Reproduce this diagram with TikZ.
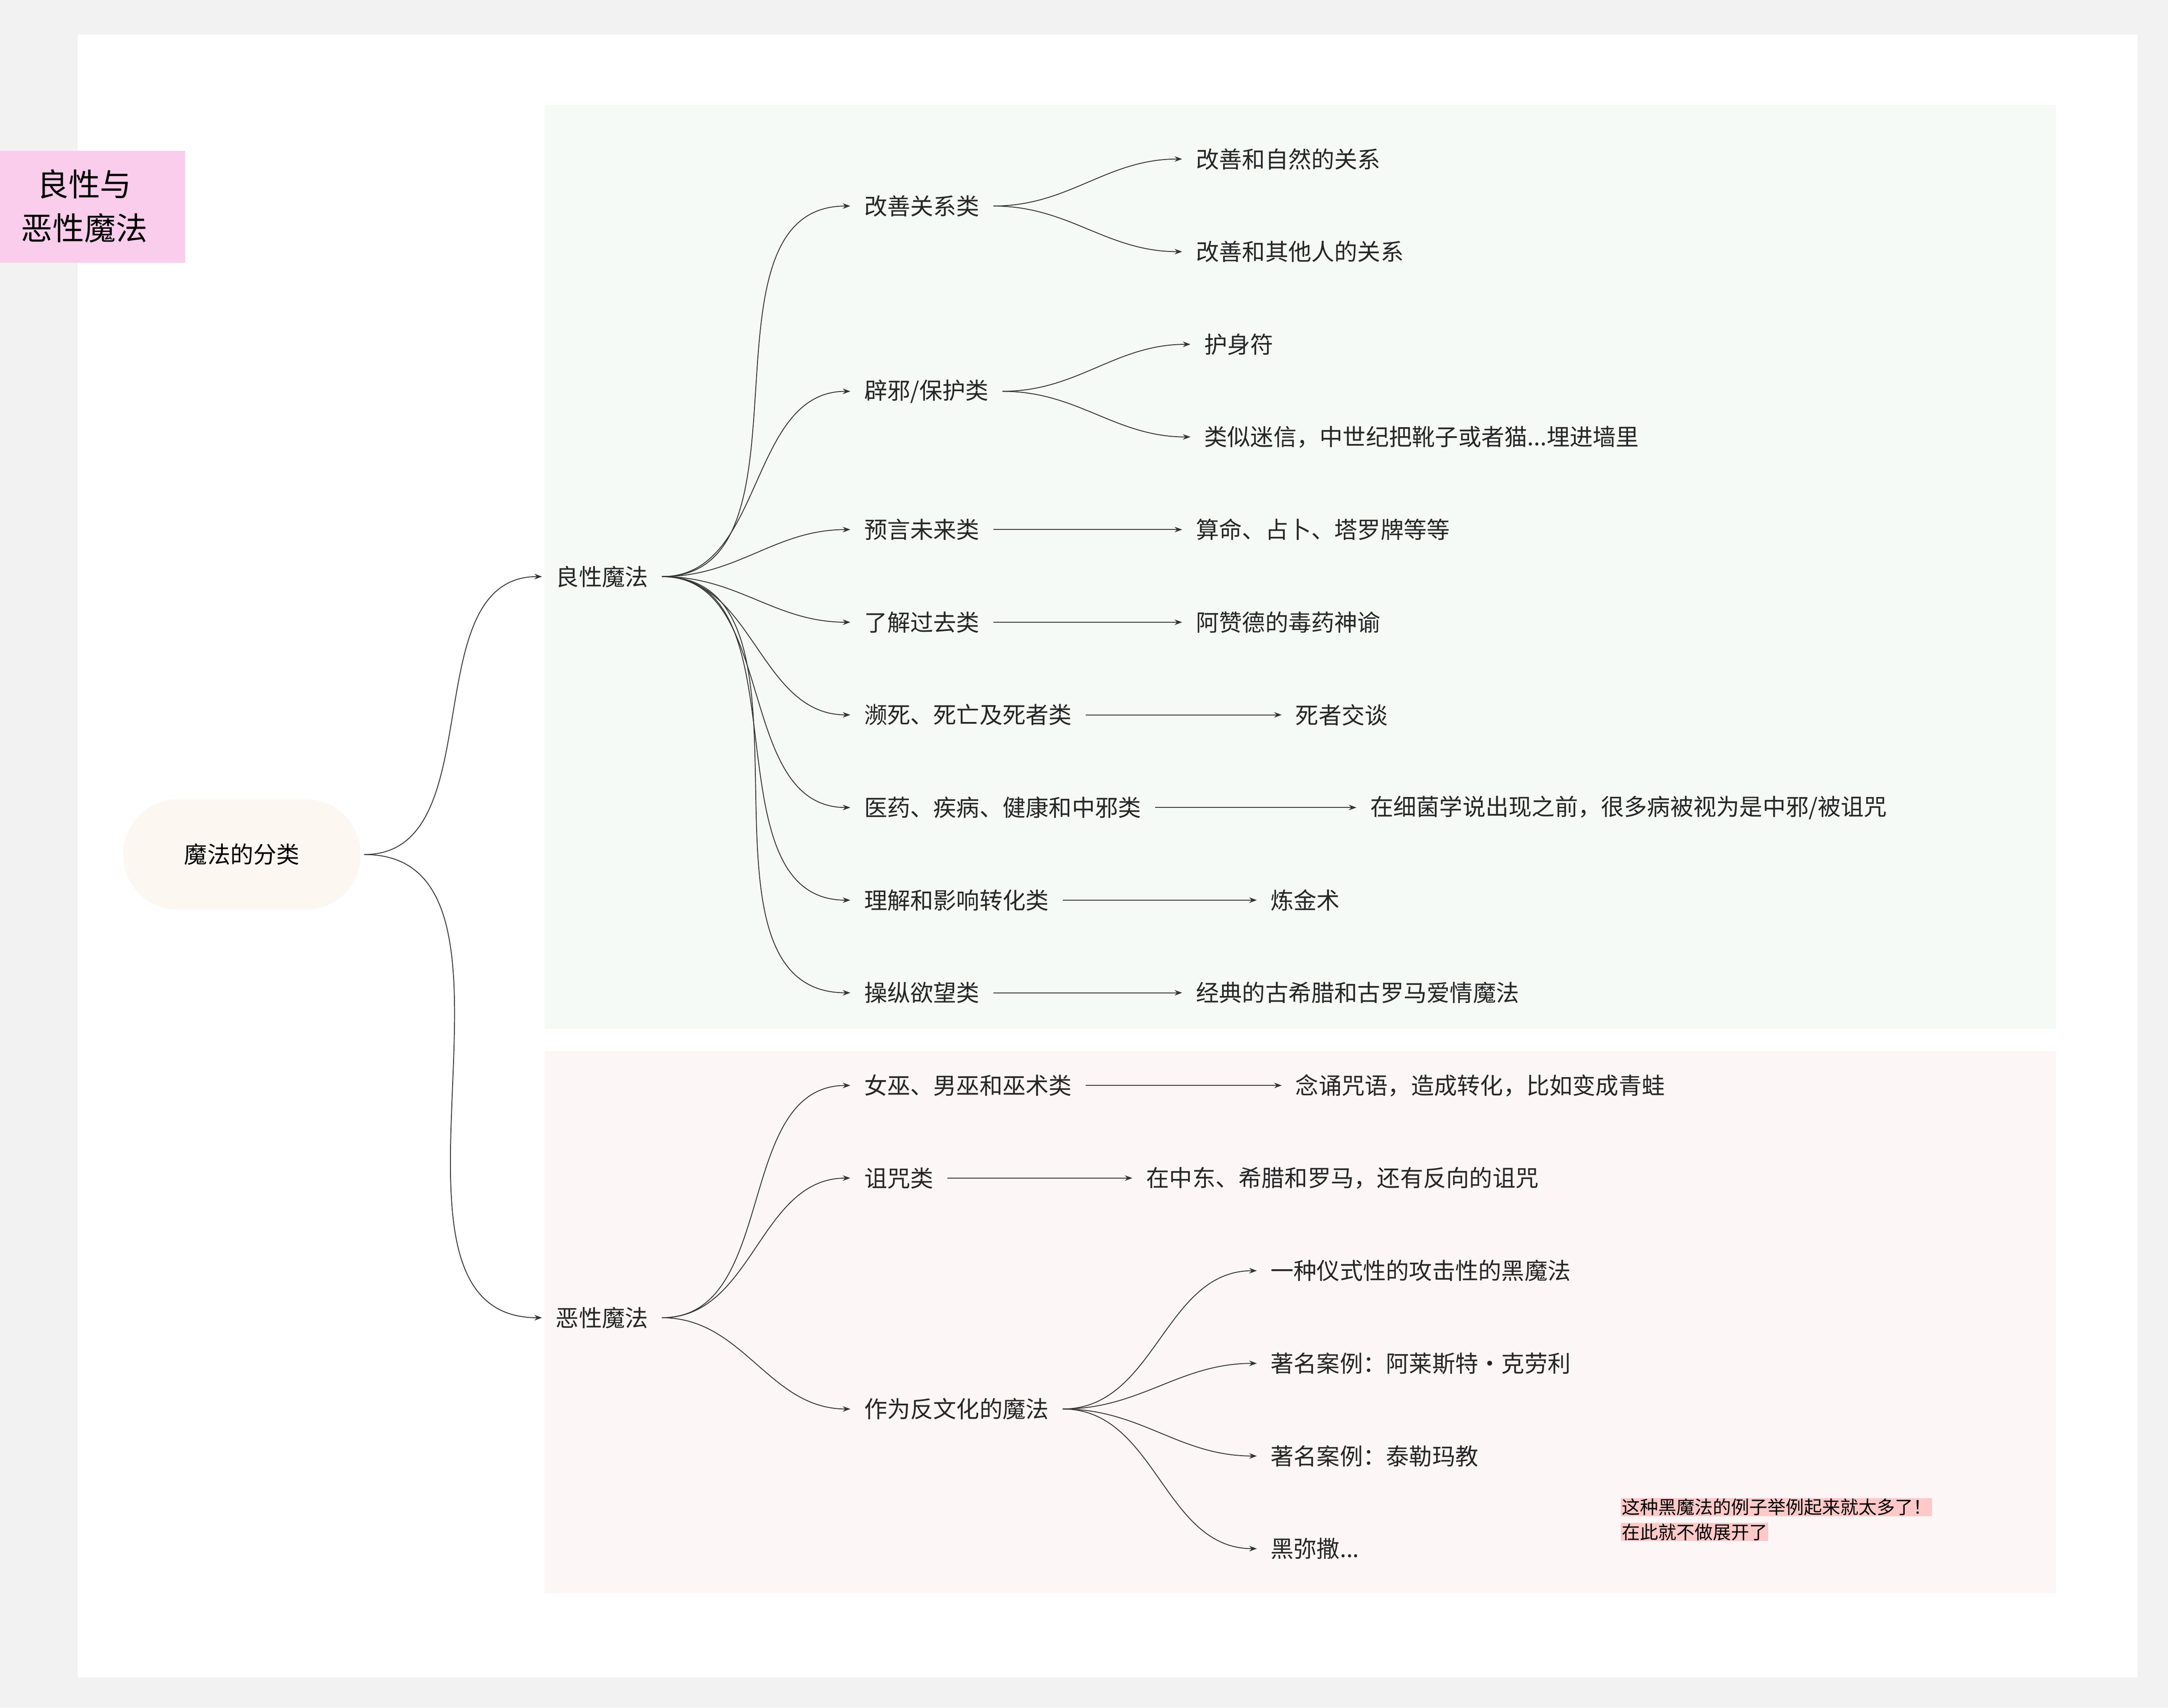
\documentclass[tikz,border=0pt]{standalone}
\usepackage{fontspec}
\setmainfont{Noto Sans CJK SC}
\usetikzlibrary{arrows.meta}
\definecolor{pagegray}{HTML}{F2F2F2}
\definecolor{goodbg}{HTML}{F5FAF6}
\definecolor{evilbg}{HTML}{FDF6F6}
\definecolor{notepink}{HTML}{F9CDEB}
\definecolor{rootbg}{HTML}{FDF7F2}
\definecolor{markpink}{HTML}{FFC9C9}
\definecolor{linegray}{HTML}{333333}
\begin{document}
\begin{tikzpicture}[x=0.2mm, y=-0.2mm,
    txt/.style={inner sep=0pt, outer sep=2mm, anchor=west, font=\fontsize{9.5}{11}\selectfont, text=black!85},
    link/.style={draw=linegray, line width=0.35pt, -{Stealth[length=1.1mm,width=0.8mm]}},
    fan/.style={link, out=0, in=180, looseness=1}]

    \useasboundingbox (0,0) rectangle (1568,1235);
    \fill[pagegray] (0,0) rectangle (1568,1235);
    \fill[white] (56,25) rectangle (1546,1213);
    \fill[goodbg] (394,76) rectangle (1487,744);
    \fill[evilbg] (394,760) rectangle (1487,1152);

    % sticky note
    \fill[notepink] (0,109) rectangle (134,190);
    \node[align=center, font=\fontsize{13}{18}\selectfont] (note) at (61,149) {良性与\\恶性魔法};

    % root
    \node[fill=rootbg, rounded corners=8mm, minimum width=34.4mm, minimum height=16mm,
          font=\fontsize{9.5}{11}\selectfont, outer sep=0.5mm] (root) at (175,618) {魔法的分类};

    \node[txt] (good) at (392,417) {良性魔法};
    \node[txt] (evil) at (392,953) {恶性魔法};
    \draw[fan] (root.east) to (good.west);
    \draw[fan] (root.east) to (evil.west);

    % good magic
    \node[txt] (g1) at (615,149) {改善关系类};
    \node[txt] (g2) at (615,283) {辟邪/保护类};
    \node[txt] (g3) at (615,383) {预言未来类};
    \node[txt] (g4) at (615,450) {了解过去类};
    \node[txt] (g5) at (615,517) {濒死、死亡及死者类};
    \node[txt] (g6) at (615,584) {医药、疾病、健康和中邪类};
    \node[txt] (g7) at (615,651) {理解和影响转化类};
    \node[txt] (g8) at (615,718) {操纵欲望类};
    \foreach \c in {g1,g2,g3,g4,g5,g6,g7,g8}
        \draw[fan] (good.east) to (\c.west);

    \node[txt] (g1a) at (855,115) {改善和自然的关系};
    \node[txt] (g1b) at (855,182) {改善和其他人的关系};
    \node[txt] (g2a) at (861,249) {护身符};
    \node[txt] (g2b) at (861,316) {类似迷信，中世纪把靴子或者猫...埋进墙里};
    \node[txt] (g3a) at (855,383) {算命、占卜、塔罗牌等等};
    \node[txt] (g4a) at (855,450) {阿赞德的毒药神谕};
    \node[txt] (g5a) at (927,517) {死者交谈};
    \node[txt] (g6a) at (981,584) {在细菌学说出现之前，很多病被视为是中邪/被诅咒};
    \node[txt] (g7a) at (909,651) {炼金术};
    \node[txt] (g8a) at (855,718) {经典的古希腊和古罗马爱情魔法};
    \draw[fan] (g1.east) to (g1a.west);
    \draw[fan] (g1.east) to (g1b.west);
    \draw[fan] (g2.east) to (g2a.west);
    \draw[fan] (g2.east) to (g2b.west);
    \foreach \a/\b in {g3/g3a, g4/g4a, g5/g5a, g6/g6a, g7/g7a, g8/g8a}
        \draw[link] (\a.east) -- (\b.west);

    % evil magic
    \node[txt] (e1) at (615,785) {女巫、男巫和巫术类};
    \node[txt] (e2) at (615,852) {诅咒类};
    \node[txt] (e3) at (615,1019) {作为反文化的魔法};
    \foreach \c in {e1,e2,e3}
        \draw[fan] (evil.east) to (\c.west);

    \node[txt] (e1a) at (927,785) {念诵咒语，造成转化，比如变成青蛙};
    \node[txt] (e2a) at (819,852) {在中东、希腊和罗马，还有反向的诅咒};
    \draw[link] (e1.east) -- (e1a.west);
    \draw[link] (e2.east) -- (e2a.west);

    \node[txt] (e3a) at (909,919) {一种仪式性的攻击性的黑魔法};
    \node[txt] (e3b) at (909,986) {著名案例：阿莱斯特·克劳利};
    \node[txt] (e3c) at (909,1053) {著名案例：泰勒玛教};
    \node[txt] (e3d) at (909,1120) {黑弥撒...};
    \foreach \c in {e3a,e3b,e3c,e3d}
        \draw[fan] (e3.east) to (\c.west);

    % remark
    \node[fill=markpink, inner sep=0.3pt, anchor=west, font=\fontsize{7.5}{9}\selectfont] (rem1) at (1172,1090) {这种黑魔法的例子举例起来就太多了！};
    \node[fill=markpink, inner sep=0.3pt, anchor=west, font=\fontsize{7.5}{9}\selectfont] (rem2) at (1172,1108) {在此就不做展开了};

\end{tikzpicture}
\end{document}
